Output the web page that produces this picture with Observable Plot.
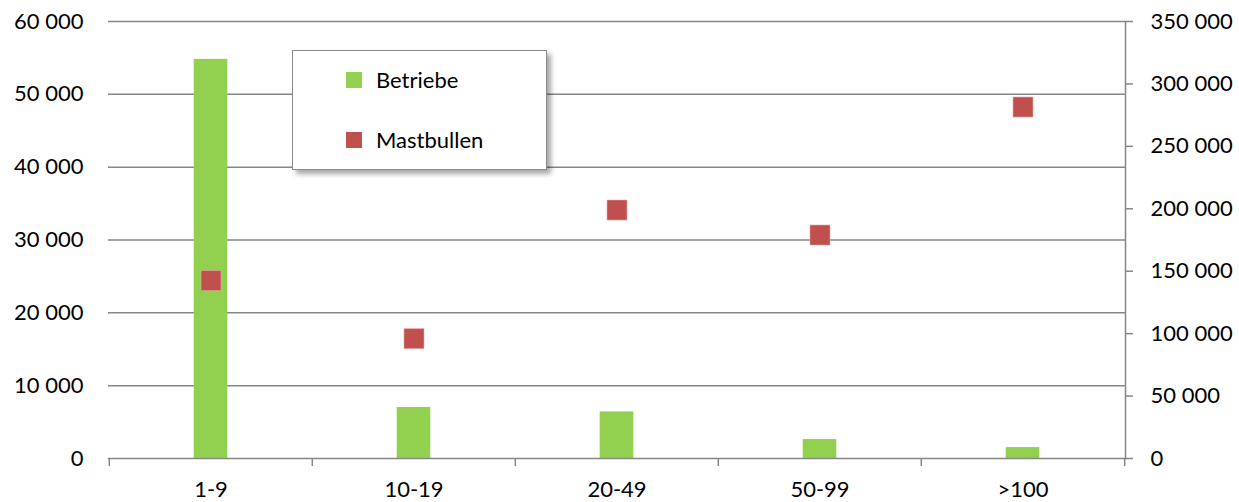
<!DOCTYPE html>
<html>
<head>
<meta charset="utf-8">
<script src="https://cdn.jsdelivr.net/npm/d3@7"></script>
<script src="https://cdn.jsdelivr.net/npm/@observablehq/plot@0.6"></script>
<style>
  html, body { margin: 0; padding: 0; background: #fff; }
  #wrap { position: relative; width: 1239px; height: 502px; font-family: Lato, "Open Sans", sans-serif; }
  #wrap svg { overflow: visible; }
  #legend {
    position: absolute; left: 292px; top: 50px; width: 253px; height: 118px;
    border: 1.5px solid #8a8a8a; background: #fff;
    box-shadow: 4px 4px 5px rgba(0,0,0,0.35);
    font-size: 22px; color: #000;
  }
  .item { position: absolute; left: 53px; display: flex; align-items: center; }
  .sw { width: 16px; height: 16px; margin-right: 14px; }
</style>
</head>
<body>
<div id="wrap"></div>
<script>
const categories = ["1-9", "10-19", "20-49", "50-99", ">100"];
const betriebe = [54800, 7000, 6400, 2600, 1500];
const mastbullen = [142500, 96000, 199000, 179000, 281500];
const leftTicks = [0, 10000, 20000, 30000, 40000, 50000, 60000];
const rightTicks = [0, 50000, 100000, 150000, 200000, 250000, 300000, 350000];
const leftMax = 60000, rightMax = 350000;
const greenColor = "#92D050", redColor = "#C0504D", gridColor = "#868686";

const fmt = d3.formatLocale({decimal: ",", thousands: "\u00a0", grouping: [3], currency: ["", ""]}).format(",");
const k = leftMax / rightMax;

const barData = categories.map((c, i) => ({cat: c, value: betriebe[i]}));
const dotData = categories.map((c, i) => ({cat: c, value: mastbullen[i]}));

const W = 1239, H = 502, mL = 108, mR = 114, mT = 21, mB = 44;
const bw = (W - mL - mR) / categories.length;

const chart = Plot.plot({
  width: W, height: H,
  marginLeft: mL, marginRight: mR, marginTop: mT, marginBottom: mB,
  style: {fontFamily: "Lato, 'Open Sans', sans-serif", fontSize: "22px", color: "#000", background: "#fff", overflow: "visible"},
  x: {domain: categories, padding: 0, label: null},
  y: {domain: [0, leftMax], label: null},
  marks: [
    Plot.gridY(leftTicks.filter(d => d > 0), {stroke: gridColor, strokeOpacity: 1, strokeWidth: 1.5}),
    Plot.barY(barData, {x: "cat", y: "value", fill: greenColor, insetLeft: (bw - 34) / 2, insetRight: (bw - 34) / 2}),
    Plot.dot(dotData, {x: "cat", y: d => d.value * k, symbol: "square", r: 11.3, fill: redColor, stroke: "#e8a9a7", strokeWidth: 0.6}),
    Plot.frame({anchor: "bottom", stroke: gridColor, strokeWidth: 1.5}),
    Plot.frame({anchor: "right", stroke: gridColor, strokeWidth: 1.5}),
    Plot.ruleX(categories, {x: d => d, dx: -bw / 2, y1: 0, y2: 0, insetBottom: -8, stroke: gridColor, strokeWidth: 1.5}),
    Plot.ruleX(categories.slice(-1), {x: d => d, dx: bw / 2, y1: 0, y2: 0, insetBottom: -8, stroke: gridColor, strokeWidth: 1.5}),
    Plot.axisY(leftTicks, {anchor: "left", tickSize: 0, tickPadding: 25, tickFormat: fmt, fontSize: 22}),
    Plot.axisY(rightTicks.map(v => v * k), {anchor: "right", tickSize: 7, tickPadding: 18, stroke: gridColor, strokeWidth: 1.5, tickFormat: v => fmt(Math.round(v / k)), fontSize: 22}),
    Plot.axisX(categories, {anchor: "bottom", tickSize: 0, tickPadding: 23, fontSize: 22})
  ]
});

const wrap = document.getElementById("wrap");
wrap.appendChild(chart);

const legend = document.createElement("div");
legend.id = "legend";
const series = [["Betriebe", greenColor, 29], ["Mastbullen", redColor, 89]];
for (const [name, color, top] of series) {
  const it = document.createElement("div");
  it.className = "item";
  it.style.top = (top - 14) + "px";
  const sw = document.createElement("div");
  sw.className = "sw";
  sw.style.background = color;
  const t = document.createElement("span");
  t.textContent = name;
  it.appendChild(sw); it.appendChild(t);
  legend.appendChild(it);
}
wrap.appendChild(legend);
</script>
</body>
</html>
